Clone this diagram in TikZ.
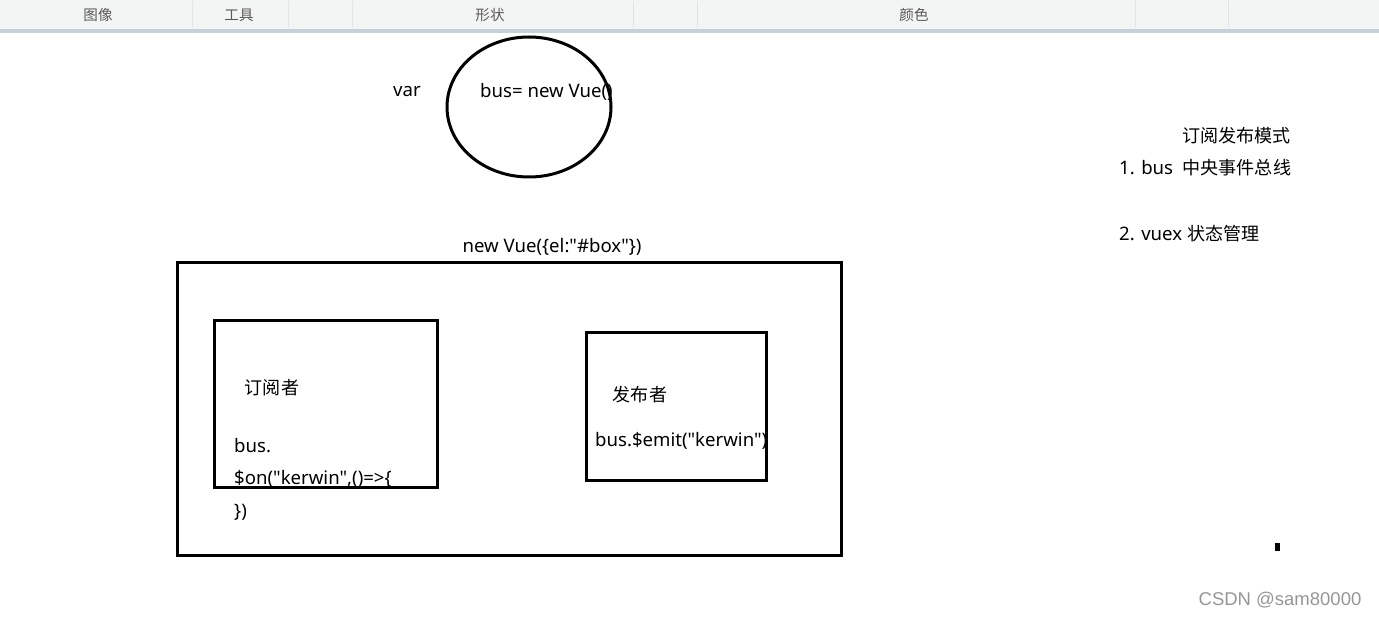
\documentclass[tikz,border=0pt]{standalone}
\usepackage{fontspec}
\setmainfont{Noto Sans}[Ligatures=TeXOff]
\newfontfamily\cjk{Noto Sans CJK SC}[Scale=0.97]
\newfontfamily\wmfont{Liberation Sans}
\usepackage{xcolor}
\usetikzlibrary{positioning,shapes.geometric}
\definecolor{barbg}{RGB}{243,244,244}
\definecolor{barline}{RGB}{200,208,218}
\definecolor{bartext}{RGB}{90,90,90}
\definecolor{marktext}{RGB}{150,150,150}

\begin{document}
\begin{tikzpicture}[x=1pt, y=-1pt,
  txt/.style={inner sep=0pt, font=\fontsize{18.6}{21}\selectfont},
  code/.style={txt, anchor=west},
  frame/.style={draw, line width=3pt, inner sep=0pt},
  tab/.style={inner sep=0pt, text=bartext, font=\cjk\fontsize{15}{17}\selectfont},
  sep/.style={draw=barline!60, line width=0.6pt},
]
\useasboundingbox (0,0) rectangle (1379,617);

% toolbar strip
\fill[barbg] (0,0) rectangle (1379,29);
\fill[barline] (0,29) rectangle (1379,33);
\foreach \sx in {192,288,352,633,697,1135,1228}
  \draw[sep] (\sx,1) -- (\sx,27);
\node[tab] (tImg) at (98,15) {图像};
\node[tab] (tTool) at (239,15) {工具};
\node[tab] (tShape) at (490,15) {形状};
\node[tab] (tColor) at (914,15) {颜色};

% the event bus
\node[frame, ellipse, minimum width=164, minimum height=140] (bus) at (529,107) {};
\node[txt] (var) at (407,92) {var};
\node[code] (busdef) at (480,92) {bus=\ new Vue()};

% notes on the right
\node[txt, anchor=east] (title) at (1291,136) {\cjk 订阅发布模式};
\node[code] (item1) at (1119,168) {1. bus\ \ {\cjk 中央事件总线}};
\node[code] (item2) at (1119,234) {2. vuex {\cjk 状态管理}};

% root instance
\node[txt] (rootlbl) at (552,247) {new Vue(\{el:"\#box"\})};
\node[frame, minimum width=664, minimum height=292] (root) at (509,409) {};

% subscriber
\node[frame, minimum width=223, minimum height=166] (sub) at (325.5,404) {};
\node[txt] (sublbl) at (272,388) {\cjk 订阅者};
\node[code] (on1) at (234,446) {bus.};
\node[code] (on2) at (234,479) {\$on("kerwin",()=>\{};
\node[code] (on3) at (234,512) {\})};

% publisher
\node[frame, minimum width=180, minimum height=147] (pub) at (676,406.5) {};
\node[txt] (publbl) at (640,395) {\cjk 发布者};
\node[code] (emit) at (595,441) {bus.\$emit("kerwin")};

% stray mark and watermark
\node[fill=black, inner sep=0pt, minimum width=5, minimum height=8] (dot) at (1277.5,547) {};
\node[inner sep=0pt, text=marktext, font=\wmfont\fontsize{18.5}{20}\selectfont] (mark) at (1280,600) {CSDN @sam80000};
\end{tikzpicture}
\end{document}
